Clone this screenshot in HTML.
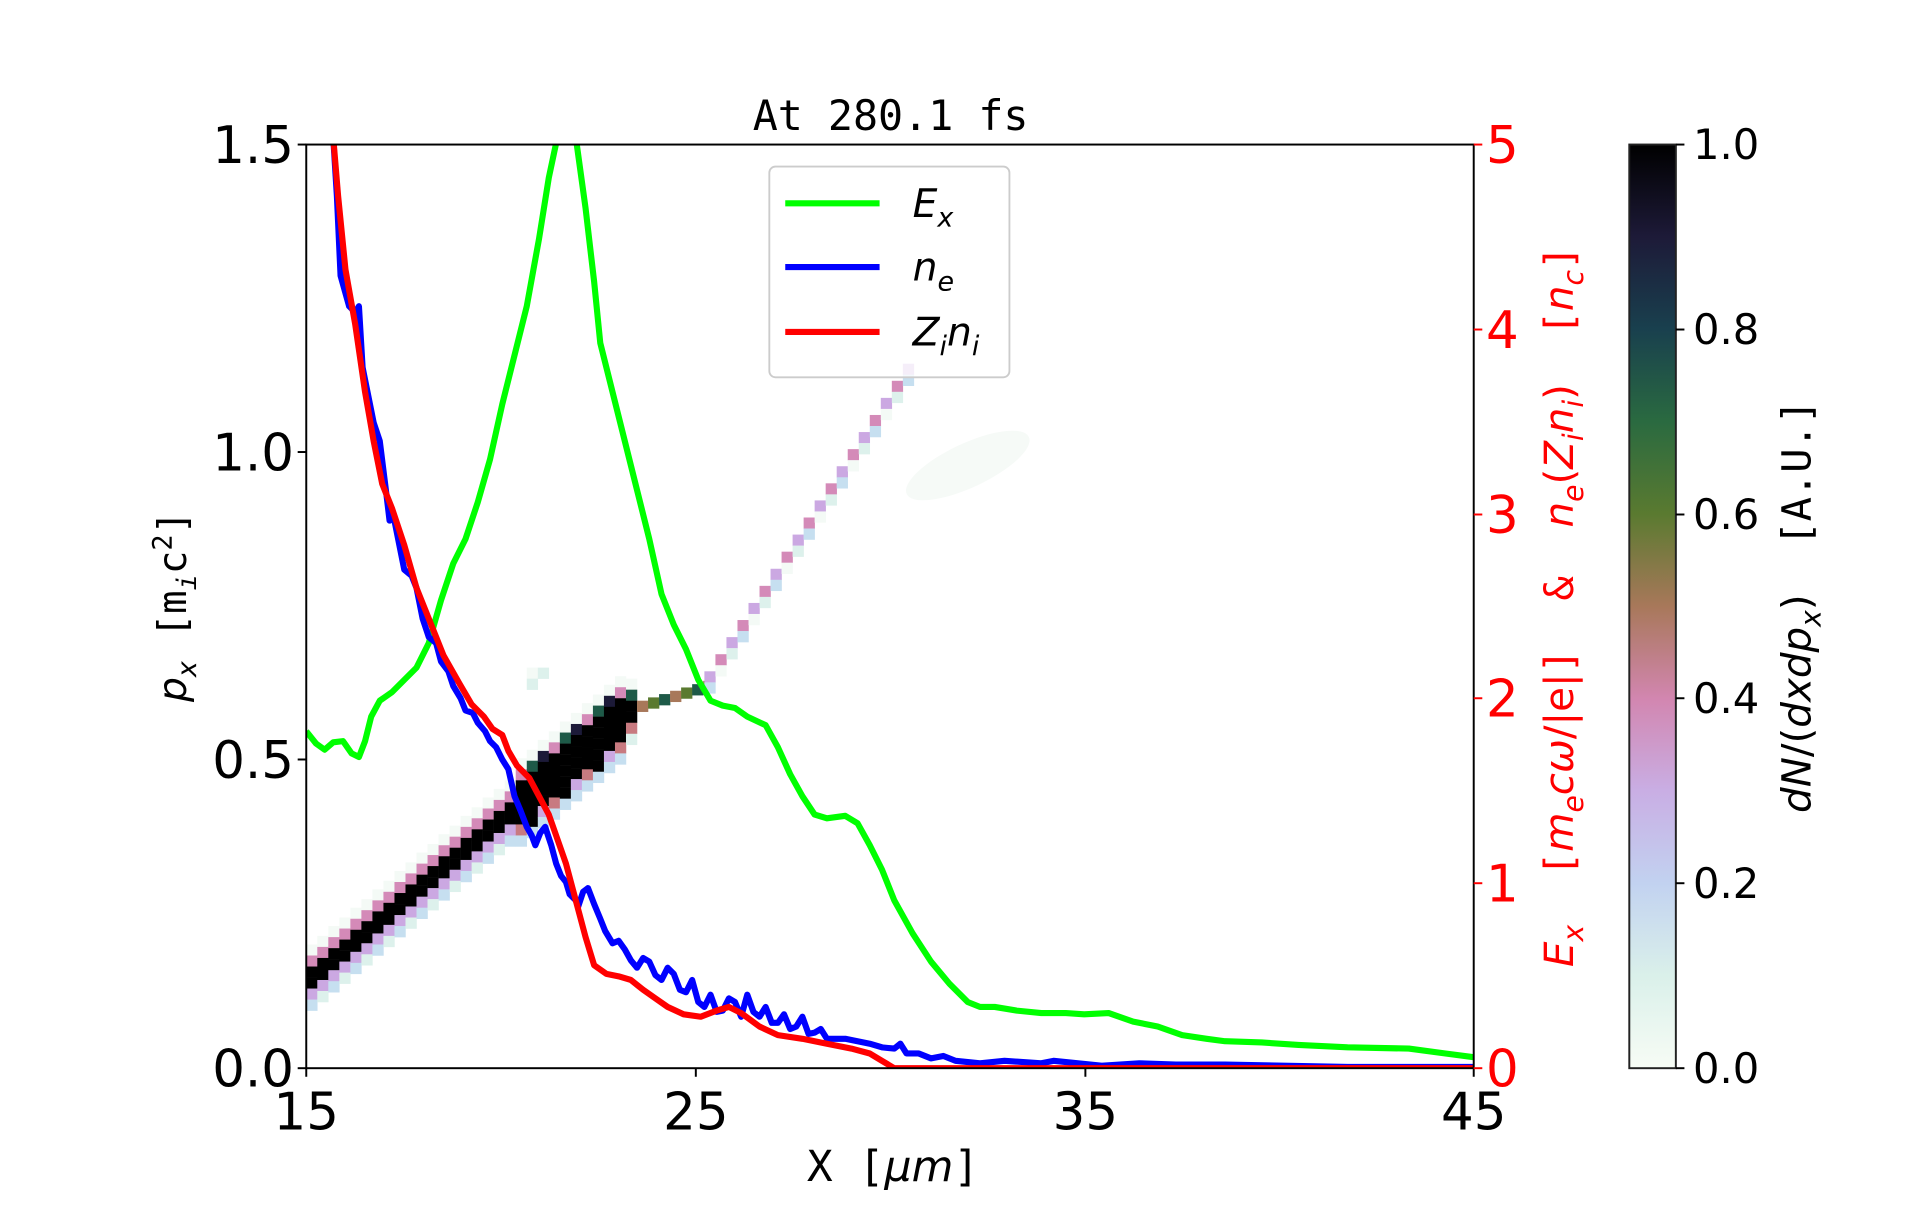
<!DOCTYPE html>
<html><head><meta charset="utf-8"><style>html,body{margin:0;padding:0;background:#fff;overflow:hidden}</style></head>
<body>
<svg id="s" width="1920" height="1200" viewBox="0 0 1567.3 979.6" preserveAspectRatio="none" xmlns="http://www.w3.org/2000/svg">
<defs>
<linearGradient id="cb" x1="0" y1="1" x2="0" y2="0">
<stop offset="0" stop-color="#f7fcf5"/><stop offset="0.1" stop-color="#daf0ea"/><stop offset="0.2" stop-color="#c2d2f0"/><stop offset="0.3" stop-color="#c9aee4"/><stop offset="0.4" stop-color="#d286b0"/><stop offset="0.5" stop-color="#a8785a"/><stop offset="0.6" stop-color="#5a7a30"/><stop offset="0.7" stop-color="#2a6a40"/><stop offset="0.8" stop-color="#19404e"/><stop offset="0.9" stop-color="#1d1a38"/><stop offset="1" stop-color="#000"/>
</linearGradient>
<clipPath id="pc"><rect x="250" y="118" width="953" height="754"/></clipPath>
</defs>
<g id="heat" clip-path="url(#pc)"><ellipse cx="790" cy="380" rx="55" ry="18" fill="#f6faf7" transform="rotate(-25 790 380)"/></g>
<g clip-path="url(#pc)" fill="none" stroke-width="5" stroke-linejoin="round">
<polyline stroke="#00ff00" points="250,597 258,607 265,612 272,606 280,605 287,615 293,618 298,605 303,585 310,572 320,565 330,555 340,545 350,525 360,490 370,460 380,440 390,410 400,375 410,330 420,290 430,250 440,195 448,145 455,112 470,112 478,170 485,230 490,280 500,320 510,360 520,400 530,440 540,485 550,510 560,530 570,555 580,572 590,576 600,578 610,585 625,592 635,610 645,632 655,650 665,665 675,668 690,666 700,672 710,690 720,710 730,735 745,762 760,785 775,803 790,818 800,822 812,822 830,825 850,827 870,827 885,828 905,827 925,834 945,838 965,845 985,848 1000,850 1030,851 1060,853 1100,855 1150,856 1180,860 1203,863"/>
<polyline stroke="#0000ff" points="272,112 275,160 278,225 285,250 290,255 293,250 296,300 300,320 305,345 310,360 315,400 318,425 321,420 325,440 330,465 336,470 340,480 345,505 350,520 356,525 360,540 366,548 370,560 376,570 380,580 386,582 390,590 396,597 400,605 405,610 410,620 415,628 420,650 425,662 430,675 434,682 437,690 441,680 445,675 450,690 454,705 458,715 462,720 465,730 470,735 472,740 476,728 480,725 485,738 490,750 494,760 500,770 505,768 510,775 515,784 520,790 525,782 530,785 535,796 540,800 545,790 550,795 555,808 560,810 565,800 570,818 575,822 580,812 585,826 590,825 595,815 600,818 605,830 610,812 615,826 620,830 625,822 630,835 635,835 640,828 645,840 650,838 655,830 660,844 665,843 670,840 675,848 690,848 700,850 710,852 720,855 730,856 735,852 740,860 750,860 760,864 770,862 780,866 800,868 820,866 850,868 860,866 900,870 930,868 960,869 1000,869 1100,871 1203,871"/>
<polyline stroke="#ff0000" points="272,112 276,160 282,220 290,265 298,320 305,360 312,395 320,415 330,445 340,480 350,505 362,535 375,558 385,575 395,585 402,595 410,600 415,613 422,625 432,635 440,650 448,665 455,685 462,705 470,735 478,765 485,788 495,795 505,797 515,800 525,808 535,815 545,822 558,828 572,830 585,825 595,822 605,827 620,838 635,845 655,848 675,852 695,856 710,860 720,866 730,872 760,872 1203,872"/>
</g>
<rect x="250" y="118" width="953" height="754" fill="none" stroke="#000" stroke-width="1.6"/>
<g stroke="#000" stroke-width="1.6">
<line x1="243" y1="118" x2="250" y2="118"/><line x1="243" y1="369" x2="250" y2="369"/><line x1="243" y1="620" x2="250" y2="620"/><line x1="243" y1="872" x2="250" y2="872"/>
<line x1="250" y1="872" x2="250" y2="879"/><line x1="568" y1="872" x2="568" y2="879"/><line x1="886" y1="872" x2="886" y2="879"/><line x1="1203" y1="872" x2="1203" y2="879"/>
</g>
<g stroke="#ff0000" stroke-width="1.6">
<line x1="1203" y1="118" x2="1210" y2="118"/><line x1="1203" y1="269" x2="1210" y2="269"/><line x1="1203" y1="420" x2="1210" y2="420"/><line x1="1203" y1="570" x2="1210" y2="570"/><line x1="1203" y1="721" x2="1210" y2="721"/><line x1="1203" y1="872" x2="1210" y2="872"/>
</g>
<g font-family="DejaVu Sans, Liberation Sans, sans-serif" font-size="42" fill="#000" text-anchor="end">
<text x="240" y="133">1.5</text><text x="240" y="384">1.0</text><text x="240" y="635">0.5</text><text x="240" y="887">0.0</text>
</g>
<g font-family="DejaVu Sans, Liberation Sans, sans-serif" font-size="42" fill="#000" text-anchor="middle">
<text x="250" y="922">15</text><text x="568" y="922">25</text><text x="886" y="922">35</text><text x="1203" y="922">45</text>
</g>
<g font-family="DejaVu Sans, Liberation Sans, sans-serif" font-size="42" fill="#ff0000">
<text x="1213" y="133">5</text><text x="1213" y="284">4</text><text x="1213" y="435">3</text><text x="1213" y="585">2</text><text x="1213" y="736">1</text><text x="1213" y="887">0</text>
</g>
<text x="727" y="106" font-family="DejaVu Sans Mono, Liberation Mono, monospace" font-size="34" text-anchor="middle">At 280.1 fs</text>
<text x="729" y="964" font-family="DejaVu Sans Mono, Liberation Mono, monospace" font-size="35" text-anchor="middle">X [<tspan font-family="DejaVu Sans, sans-serif" font-style="italic">μm</tspan>]</text>
<text transform="translate(152,495) rotate(-90)" font-family="DejaVu Sans Mono, Liberation Mono, monospace" font-size="32" text-anchor="middle"><tspan font-family="DejaVu Sans, sans-serif" font-style="italic">p</tspan><tspan font-size="22" dy="8" font-style="italic" font-family="DejaVu Sans, sans-serif">x</tspan><tspan dy="-8"> [m</tspan><tspan font-size="22" dy="8" font-style="italic">i</tspan><tspan dy="-8">c</tspan><tspan font-size="22" dy="-12">2</tspan><tspan dy="12">]</tspan></text>
<text transform="translate(1284,495) rotate(-90)" font-family="DejaVu Sans, Liberation Sans, sans-serif" font-size="33" fill="#ff0000" text-anchor="middle" xml:space="preserve"><tspan font-style="italic">E</tspan><tspan font-size="23" dy="8" font-style="italic">x</tspan><tspan dy="-8" font-family="DejaVu Sans Mono, monospace">  [</tspan><tspan font-style="italic">m</tspan><tspan font-size="23" dy="8" font-style="italic">e</tspan><tspan dy="-8" font-style="italic">cω</tspan><tspan>/|e|</tspan><tspan font-family="DejaVu Sans Mono, monospace">]  &amp;  </tspan><tspan font-style="italic">n</tspan><tspan font-size="23" dy="8" font-style="italic">e</tspan><tspan dy="-8">(</tspan><tspan font-style="italic">Z</tspan><tspan font-size="23" dy="8" font-style="italic">i</tspan><tspan dy="-8" font-style="italic">n</tspan><tspan font-size="23" dy="8" font-style="italic">i</tspan><tspan dy="-8">)</tspan><tspan font-family="DejaVu Sans Mono, monospace">  [</tspan><tspan font-style="italic">n</tspan><tspan font-size="23" dy="8" font-style="italic">c</tspan><tspan dy="-8" font-family="DejaVu Sans Mono, monospace">]</tspan></text>
<rect x="1330" y="118" width="38" height="754" fill="url(#cb)" stroke="#222" stroke-width="1.6"/>
<g stroke="#000" stroke-width="1.6">
<line x1="1368" y1="118" x2="1375" y2="118"/><line x1="1368" y1="269" x2="1375" y2="269"/><line x1="1368" y1="420" x2="1375" y2="420"/><line x1="1368" y1="570" x2="1375" y2="570"/><line x1="1368" y1="721" x2="1375" y2="721"/><line x1="1368" y1="872" x2="1375" y2="872"/>
</g>
<g font-family="DejaVu Sans, Liberation Sans, sans-serif" font-size="34" fill="#000">
<text x="1382" y="130">1.0</text><text x="1382" y="281">0.8</text><text x="1382" y="432">0.6</text><text x="1382" y="582">0.4</text><text x="1382" y="733">0.2</text><text x="1382" y="884">0.0</text>
</g>
<text transform="translate(1478,495) rotate(-90)" font-family="DejaVu Sans, Liberation Sans, sans-serif" font-size="33" fill="#000" text-anchor="middle" xml:space="preserve"><tspan font-style="italic">dN</tspan>/(<tspan font-style="italic">dxdp</tspan><tspan font-size="23" dy="8" font-style="italic">x</tspan><tspan dy="-8">)</tspan><tspan font-family="DejaVu Sans Mono, monospace">  [A.U.]</tspan></text>
<rect x="628" y="136" width="196" height="172" rx="5" fill="#fff" fill-opacity="0.8" stroke="#ccc" stroke-width="1.5"/>
<g stroke-width="5"><line x1="641" y1="166" x2="718" y2="166" stroke="#00ff00"/><line x1="641" y1="218" x2="718" y2="218" stroke="#0000ff"/><line x1="641" y1="271" x2="718" y2="271" stroke="#ff0000"/></g>
<g font-family="DejaVu Sans, Liberation Sans, sans-serif" font-size="32" font-style="italic" fill="#000">
<text x="745" y="177">E<tspan font-size="22" dy="8">x</tspan></text>
<text x="745" y="229">n<tspan font-size="22" dy="8">e</tspan></text>
<text x="745" y="282">Z<tspan font-size="22" dy="8">i</tspan><tspan dy="-8">n</tspan><tspan font-size="22" dy="8">i</tspan></text>
</g>
</svg>
<script>
(function(){
var g=document.getElementById('heat'),ns='http://www.w3.org/2000/svg';
var cols=['#f4faf6','#ddf1ec','#c6dff0','#c2c8f0','#cba8e2','#d48ab8','#c87a80','#a8785a','#5a7a30','#1e5a48','#1c1a38','#000'];
function cell(x,y,c){var r=document.createElementNS(ns,'rect');r.setAttribute('x',x);r.setAttribute('y',y);r.setAttribute('width',9.2);r.setAttribute('height',9.2);r.setAttribute('fill',c);g.appendChild(r);}
var S=9,k=0;
for(var x=250;x<520;x+=S){
 var yc=795-(x-250)*0.83;var half=10;
 if(x>415&&x<505){half=20;}
 for(var y=yc-half-14;y<yc+half+18;y+=S){
  var d=Math.abs(y-yc);var c;k++;
  if(d<half) c='#000';
  else if(d<half+9) c=[cols[10],cols[6],cols[5],cols[11],cols[9],cols[4]][k%6];
  else c=[cols[1],cols[0],cols[2],cols[0]][k%4];
  cell(x,Math.round(y),c);
 }
}
cell(430,545,cols[0]);cell(439,545,cols[1]);cell(430,554,cols[1]);
for(var x=520;x<575;x+=S){var yc=572-(x-520)*0.3;cell(x,yc,[cols[8],cols[9],cols[7]][k++%3]);}
for(var x=575;x<740;x+=S){var yc=548-(x-575)*1.55;cell(x,yc,[cols[5],cols[4]][k++%2]);cell(x,yc+9,[cols[1],cols[2],cols[0]][k%3]);}
})();
</script>
</body></html>
